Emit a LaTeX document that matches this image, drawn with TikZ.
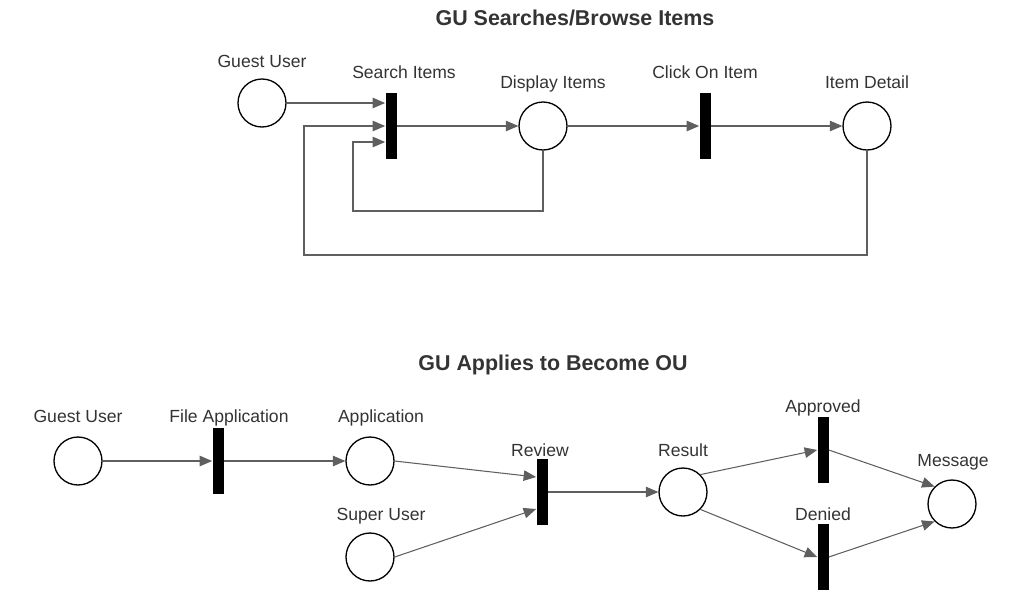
\documentclass[tikz,border=0pt]{standalone}
\usepackage{fontspec}
\setmainfont{Liberation Sans}
\usepackage{tikz}
\usetikzlibrary{arrows.meta}
\usetikzlibrary{calc}
\definecolor{wiregray}{HTML}{5F5F5F}
\definecolor{textgray}{HTML}{333333}
\tikzset{
    place/.style={
           circle,
           draw=black, line width=0.75pt,
           minimum size=0.96cm,
           inner sep=0pt,
           },
    transition/.style={
           rectangle,
           fill=black,
           minimum width=0.22cm,
           minimum height=1.32cm,
           inner sep=0pt,
           },
    tag/.style={
           text=textgray,
           font=\fontsize{10}{12}\selectfont,
           text height=7.2pt,
           text depth=0pt,
           inner sep=0pt,
           },
    heading/.style={
           text=textgray,
           font=\fontsize{12.2}{14}\selectfont\bfseries,
           text height=8.8pt,
           text depth=0pt,
           inner sep=0pt,
           },
    wire/.style={
           draw=wiregray,
           line width=0.6pt,
           },
}

\begin{document}
\begin{tikzpicture}
[
x=0.02cm, y=-0.02cm,
->,>={Triangle[length=0.25cm,width=0.21cm]},
every edge/.append style={wire}
]
 \useasboundingbox (0,0) rectangle (1024,606);

 % SEARCH / BROWSE NET
 \node[heading] (TITLE_SEARCH) at (575,18) {GU Searches/Browse Items};

 \node[place] (GUEST) at (262,103) {};
 \node[tag] (GUEST_TAG) at (262,61) {Guest User};

 \node[transition] (SEARCH) at (391,126) {};
 \node[tag] (SEARCH_TAG) at (404,72) {Search Items};

 \node[place] (DISPLAY) at (543,126) {};
 \node[tag] (DISPLAY_TAG) at (553,82) {Display Items};

 \node[transition] (CLICK) at (705,126) {};
 \node[tag] (CLICK_TAG) at (705,72) {Click On Item};

 \node[place] (DETAIL) at (867,126) {};
 \node[tag] (DETAIL_TAG) at (867,82) {Item Detail};

 % loop corners
 \coordinate (LOOP_DISPLAY) at (353,211);
 \coordinate (LOOP_DETAIL) at (304,255);

 % draw the arcs
 \path
  (GUEST.east) edge ($(GUEST.east -| SEARCH.west)$)
  (SEARCH.east) edge (DISPLAY.west)
  (DISPLAY.east) edge (CLICK.west)
  (CLICK.east) edge (DETAIL.west)
 ;
 \draw[wire] (DISPLAY.south) |- (LOOP_DISPLAY) |- ([yshift=-0.32cm]SEARCH.west);
 \draw[wire] (DETAIL.south) |- (LOOP_DETAIL) |- (SEARCH.west);

 % APPLY NET
 \node[heading] (TITLE_APPLY) at (553,363) {GU Applies to Become OU};

 \node[place] (GUEST_APPLY) at (78,461) {};
 \node[tag] (GUEST_APPLY_TAG) at (78,416) {Guest User};

 \node[transition] (FILE) at (218,461) {};
 \node[tag] (FILE_TAG) at (229,416) {File Application};

 \node[place] (APPL) at (370,461) {};
 \node[tag] (APPL_TAG) at (381,416) {Application};

 \node[place] (SUPER) at (370,557) {};
 \node[tag] (SUPER_TAG) at (381,514) {Super User};

 \node[transition] (REVIEW) at (542,492) {};
 \node[tag] (REVIEW_TAG) at (540,450) {Review};

 \node[place] (RESULT) at (683,492) {};
 \node[tag] (RESULT_TAG) at (683,450) {Result};

 \node[transition] (APPROVED) at (823,450) {};
 \node[tag] (APPROVED_TAG) at (823,406) {Approved};

 \node[transition] (DENIED) at (823,557) {};
 \node[tag] (DENIED_TAG) at (823,514) {Denied};

 \node[place] (MESSAGE) at (952,504) {};
 \node[tag] (MESSAGE_TAG) at (953,460) {Message};

 % draw the arcs
 \path
  (GUEST_APPLY.east) edge (FILE.west)
  (FILE.east) edge (APPL.west)
  (APPL.east) edge ([yshift=0.3cm]REVIEW.west)
  (SUPER.east) edge ([yshift=-0.34cm]REVIEW.west)
  (REVIEW.east) edge (RESULT.west)
  (RESULT.45) edge (APPROVED.west)
  (RESULT.-45) edge (DENIED.west)
  (APPROVED.east) edge (MESSAGE.135)
  (DENIED.east) edge (MESSAGE.-135)
 ;

\end{tikzpicture}
\end{document}
